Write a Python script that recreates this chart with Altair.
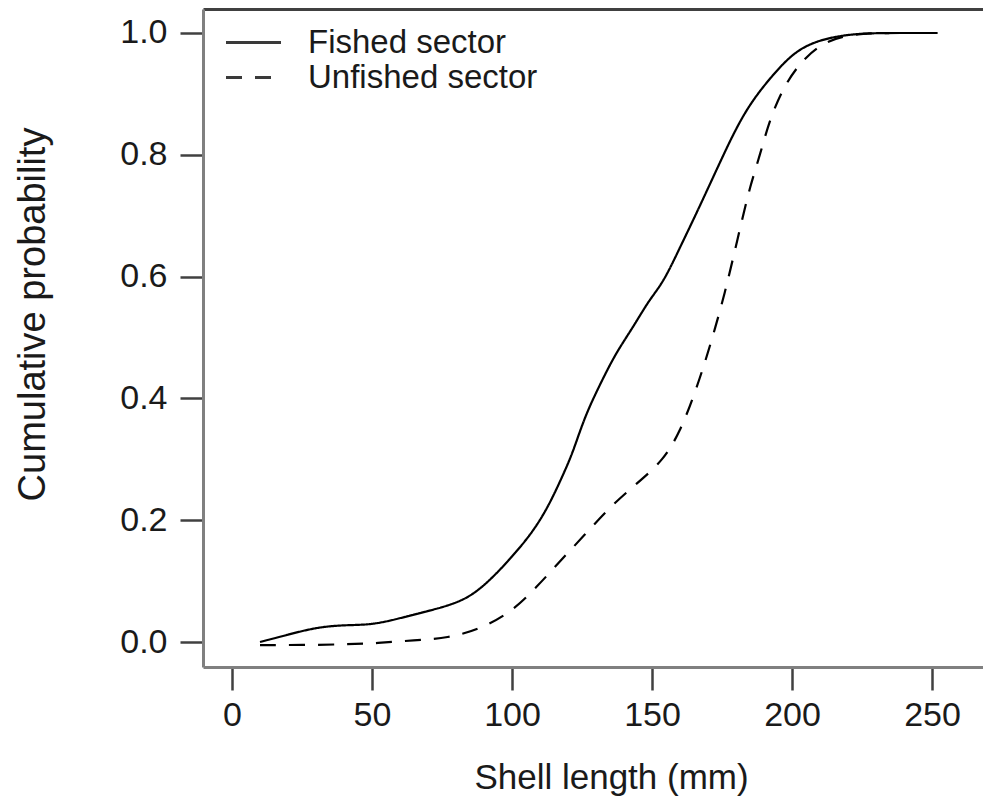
import altair as alt
import pandas as pd

# ---- data ----
fished_len = [10, 20, 30, 40, 50, 60, 72, 84, 93, 100, 107, 113, 119, 122, 126, 131, 137,
              143, 149, 154, 160, 166, 174, 183, 193, 202, 213, 225, 240, 252]
fished_cum = [0.0, 0.012, 0.024, 0.028, 0.028, 0.039, 0.053, 0.069, 0.105, 0.14, 0.178, 0.222,
              0.282, 0.315, 0.37, 0.419, 0.474, 0.515, 0.562, 0.59, 0.648, 0.705, 0.785, 0.873,
              0.931, 0.975, 0.993, 1.0, 1.0, 1.0]

unfished_len = [10, 25, 40, 52, 65, 77, 89, 100, 109, 117, 126, 135, 145, 154, 160, 165, 169,
                172.6, 176, 179, 182, 185, 188.6, 192, 197.5, 204.7, 212, 220, 230, 240, 252]
unfished_cum = [-0.005, -0.005, -0.004, -0.002, 0.003, 0.006, 0.022, 0.05, 0.091, 0.132, 0.176,
                0.222, 0.262, 0.298, 0.345, 0.405, 0.46, 0.516, 0.573, 0.631, 0.69, 0.748, 0.8,
                0.858, 0.917, 0.961, 0.986, 0.997, 1.0, 1.0, 1.0]

sectors = ["Fished sector", "Unfished sector"]
x_ticks = [0, 50, 100, 150, 200, 250]
y_ticks = [0.0, 0.2, 0.4, 0.6, 0.8, 1.0]

df = pd.concat([
    pd.DataFrame({"length": fished_len, "cum": fished_cum, "sector": sectors[0]}),
    pd.DataFrame({"length": unfished_len, "cum": unfished_cum, "sector": sectors[1]}),
], ignore_index=True)

FONT = "Liberation Sans"
TXT = "#1a1a1a"

x_scale = alt.Scale(domain=[-10.357, 268.21], nice=False, zero=False)
y_scale = alt.Scale(domain=[-0.04105, 1.0394], nice=False, zero=False)

y_axis = alt.Axis(values=y_ticks, format=".1f", title="Cumulative probability", grid=False,
                  domain=True, domainColor="#808080", domainWidth=3,
                  ticks=True, tickSize=23, tickWidth=2.5, tickColor="#404040",
                  labelFont=FONT, labelFontSize=34, labelColor=TXT, labelPadding=13,
                  titleFont=FONT, titleFontSize=38, titleFontWeight="normal",
                  titleColor=TXT, titleX=-170, titleY=305, titleAngle=270,
                  titleAlign="center", titleBaseline="middle")

lines = alt.Chart(df).mark_line(color="black", strokeWidth=2.2, interpolate="basis").encode(
    x=alt.X("length:Q", scale=x_scale,
            axis=alt.Axis(values=x_ticks, format="d", title="Shell length (mm)", grid=False,
                          domain=True, domainColor="#808080", domainWidth=3,
                          ticks=True, tickSize=23, tickWidth=2.5, tickColor="#404040",
                          labelFont=FONT, labelFontSize=34, labelColor=TXT, labelPadding=8,
                          titleFont=FONT, titleFontSize=35, titleFontWeight="normal",
                          titleColor=TXT, titleX=408, titleY=110, titleAlign="center",
                          titleBaseline="middle")),
    y=alt.Y("cum:Q", scale=y_scale, axis=y_axis),
    strokeDash=alt.StrokeDash("sector:N", sort=sectors,
                              scale=alt.Scale(domain=sectors, range=[[1, 0], [16, 13]]),
                              legend=alt.Legend(title=None, orient="none", legendX=34, legendY=17,
                                                symbolType="M-5,0H5", symbolSize=121,
                                                symbolStrokeWidth=3, symbolStrokeColor="#3a3a3a",
                                                labelFont=FONT, labelFontSize=33, labelColor=TXT,
                                                labelOffset=38, labelLimit=0, rowPadding=1,
                                                padding=0)),
    detail="sector:N",
)

top_border = alt.Chart(df).mark_line(opacity=0).encode(
    x=alt.X("length:Q", scale=x_scale,
            axis=alt.Axis(orient="top", domain=True, domainColor="#404040", domainWidth=3,
                          ticks=False, labels=False, title=None, grid=False)),
    y=alt.Y("cum:Q", scale=y_scale, axis=y_axis),
)

chart = alt.layer(lines, top_border).resolve_axis(x="independent").properties(
    width=780, height=658,
    padding={"left": 203, "top": 9, "right": 0, "bottom": 131},
    autosize=alt.AutoSizeParams(type="none"),
    background="white",
).configure_view(stroke=None)

chart.save("out.html", embed_options={"renderer": "svg", "actions": False})
